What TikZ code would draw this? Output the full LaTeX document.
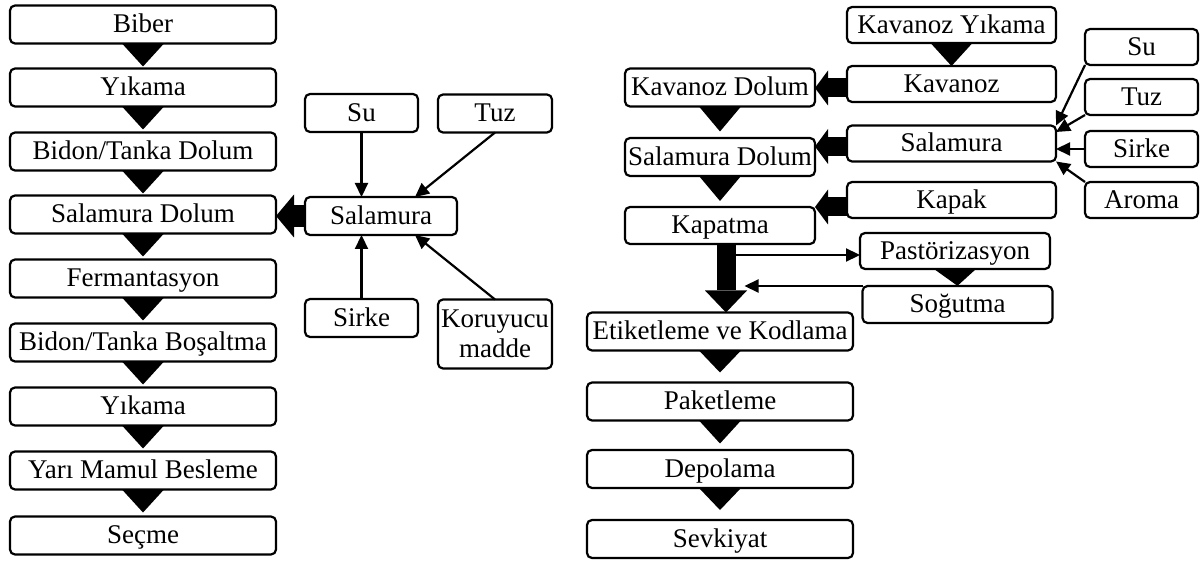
\documentclass[tikz,border=0pt]{standalone}
\usepackage{fontspec}
\setmainfont{Liberation Serif}
\usetikzlibrary{arrows.meta,calc}

\begin{document}
\begin{tikzpicture}[x=1pt,y=-1pt,
box/.style={draw,rounded corners=5pt,line width=2.2pt,inner sep=0pt,outer sep=0pt,font=\fontsize{27}{30}\selectfont,align=center},
linebox/.style={box,text height=18.5pt,text depth=2pt},
colbox/.style={linebox,minimum width=266pt,minimum height=38pt},
midbox/.style={linebox,minimum width=190pt,minimum height=38pt},
widebox/.style={linebox,minimum width=209pt,minimum height=36pt},
smallbox/.style={linebox,minimum width=113pt,minimum height=38pt},
feed/.style={line width=2.2pt,-{Triangle[length=14pt,width=13pt]}},
bigarr/.style={line width=22pt,-{Triangle[length=18pt,width=43pt,line width=0pt]}},
sidearr/.style={line width=19pt,-{Triangle[length=13pt,width=35pt,line width=0pt]}},
downarr/.style={line width=19pt,-{Triangle[length=22pt,width=42pt,line width=0pt]}}]
\useasboundingbox (0,0) rectangle (1202,561);
\node[colbox] (biber) at (143,24.5) {Biber}; \node[colbox] (yik1) at (143,87.5) {Yıkama};
\node[colbox] (bidon) at (143,151.5) {Bidon/Tanka Dolum}; \node[colbox] (saldol) at (143,214.5) {Salamura Dolum};
\node[colbox] (ferm) at (143,278.5) {Fermantasyon}; \node[colbox] (bosalt) at (143,342.5) {Bidon/Tanka Boşaltma};
\node[colbox] (yik2) at (143,406.5) {Yıkama}; \node[colbox] (yari) at (143,470.5) {Yarı Mamul Besleme};
\node[colbox] (secme) at (143,535.5) {Seçme};
\node[smallbox] (su1) at (361.5,113) {Su}; \node[smallbox,minimum width=114pt] (tuz1) at (495,113.5) {Tuz};
\node[linebox,minimum width=152pt,minimum height=38pt] (sal1) at (381,216) {Salamura};
\node[smallbox] (sirke1) at (361.5,318) {Sirke};
\node[box,minimum width=114pt,minimum height=69pt] (koru) at (495,334) {Koruyucu\\madde};
\draw[feed] (su1.south) -- (su1.south |- sal1.north); \draw[feed] (tuz1.south) -- ($(sal1.north)+(34,0)$);
\draw[feed] (sirke1.north) -- (sirke1.north |- sal1.south); \draw[feed] (koru.north) -- ($(sal1.south)+(34,0)$);
\draw[bigarr] (sal1.west) -- (sal1.west -| saldol.east);
\node[midbox] (kdol) at (720,87.5) {Kavanoz Dolum}; \node[midbox] (sdol) at (720,157) {Salamura Dolum};
\node[midbox,minimum height=37pt] (kapatma) at (720,225.5) {Kapatma};
\node[colbox] (etik) at (720,331.5) {Etiketleme ve Kodlama}; \node[colbox] (paket) at (720,401.5) {Paketleme};
\node[colbox] (depo) at (720,469) {Depolama}; \node[colbox] (sevk) at (720,539) {Sevkiyat};
\node[widebox] (kyik) at (951.5,25) {Kavanoz Yıkama}; \node[widebox] (kav) at (951.5,84) {Kavanoz};
\node[widebox] (sal2) at (951.5,143.5) {Salamura}; \node[widebox] (kapak) at (951.5,200) {Kapak};
\node[smallbox,minimum height=36pt] (su2) at (1141.5,47) {Su}; \node[smallbox,minimum height=36pt] (tuz2) at (1141.5,97) {Tuz};
\node[smallbox,minimum height=36pt] (sirke2) at (1141.5,149) {Sirke}; \node[smallbox,minimum height=36pt] (aroma) at (1141.5,200) {Aroma};
\node[midbox,minimum height=36pt] (pas) at (955,251) {Pastörizasyon}; \node[midbox,minimum height=37pt] (sog) at (957.5,304.5) {Soğutma};
\draw[feed] (su2.south west) -- (sal2.north east); \draw[feed] (tuz2.south west) -- ($(sal2.east)+(0,-11.5)$);
\draw[feed] (sirke2.west) -- (sirke2.west -| sal2.east); \draw[feed] (aroma.north west) -- (sal2.south east);
\draw[sidearr] ([yshift=-4pt]kav.west) -- ([yshift=-4pt]kav.west -| kdol.east);
\draw[sidearr] ([yshift=-3pt]sal2.west) -- ([yshift=-3pt]sal2.west -| sdol.east);
\draw[sidearr] ([yshift=-7pt]kapak.west) -- ([yshift=-7pt]kapak.west -| kapatma.east);
\draw[downarr] ([xshift=6pt]kapatma.south) -- ([xshift=6pt]etik.north);
\coordinate (shaftR) at ([xshift=15.5pt]kapatma.south);
\draw[feed] ([yshift=-4pt]pas.west -| shaftR) -- ([yshift=-4pt]pas.west);
\draw[feed,shorten >=9pt] (sog.north west) -- (sog.north west -| shaftR);
\foreach \a/\b/\h in {biber/yik1/23pt,yik1/bidon/23pt,bidon/saldol/23pt,saldol/ferm/23pt,ferm/bosalt/23pt,bosalt/yik2/23pt,yik2/yari/23pt,yari/secme/23pt,kdol/sdol/25pt,sdol/kapatma/25pt,etik/paket/22pt,paket/depo/23pt,depo/sevk/22pt,kyik/kav/23pt,pas/sog/17pt}
  \fill ($(\a.south)+(-21,0)$) -- ($(\a.south)+(21,0)$) -- ($(\a.south)!\h!(\b.north)$) -- cycle;
\end{tikzpicture}
\end{document}
